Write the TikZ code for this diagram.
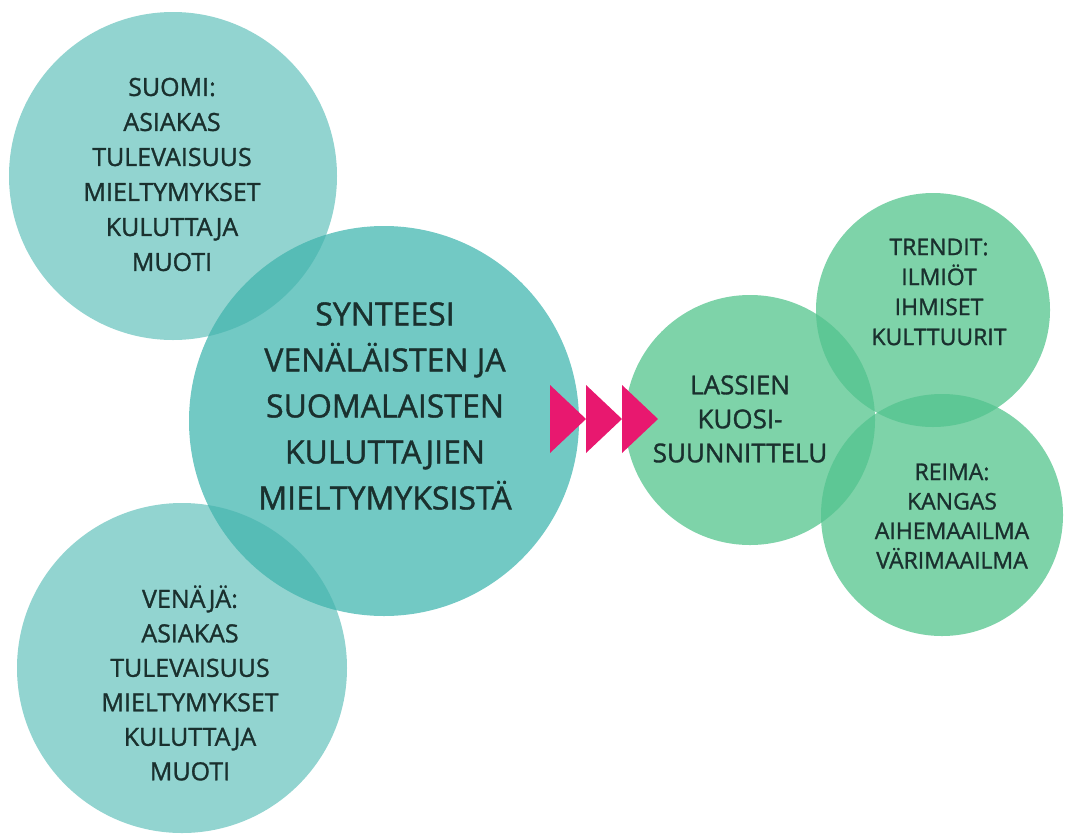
\documentclass[tikz,border=0pt]{standalone}
\usepackage{fontspec}
\setmainfont{Open Sans}
\newfontfamily\lblfont{Open Sans}[FakeBold=1.2]
\definecolor{tealA}{HTML}{92D4D0}
\definecolor{tealB}{HTML}{72C9C4}
\definecolor{tealO}{HTML}{56BCB6}
\definecolor{greenA}{HTML}{7ED3A9}
\definecolor{greenO}{HTML}{5DC795}
\definecolor{pinkA}{HTML}{E8186F}
\definecolor{txt}{HTML}{1A302E}
\begin{document}
\begin{tikzpicture}[x=1pt,y=-1pt,
  bub/.style={circle,inner sep=0pt,draw=none},
  lbl/.style={align=center,text=txt,inner sep=0pt},
  tri/.style={fill=pinkA,draw=none}]
\useasboundingbox (0,0) rectangle (1070,833);
% teal circles
\node[bub,fill=tealA,minimum size=328pt] (fi) at (173,176) {};
\node[bub,fill=tealA,minimum size=330pt] (ru) at (182,668) {};
\node[bub,fill=tealB,minimum size=390pt] (syn) at (384,421) {};
\begin{scope}
  \clip (173,176) circle[radius=164pt];
  \fill[tealO] (384,421) circle[radius=195pt];
\end{scope}
\begin{scope}
  \clip (182,668) circle[radius=165pt];
  \fill[tealO] (384,421) circle[radius=195pt];
\end{scope}
% green circles
\node[bub,fill=greenA,minimum size=250pt] (las) at (750,420) {};
\node[bub,fill=greenA,minimum size=234pt] (tr) at (933,310) {};
\node[bub,fill=greenA,minimum size=242pt] (re) at (942,515) {};
\begin{scope}
  \clip (750,420) circle[radius=125pt];
  \fill[greenO] (933,310) circle[radius=117pt];
  \fill[greenO] (942,515) circle[radius=121pt];
\end{scope}
\begin{scope}
  \clip (933,310) circle[radius=117pt];
  \fill[greenO] (942,515) circle[radius=121pt];
\end{scope}
% texts
\node[lbl,font=\lblfont\fontsize{25}{35}\selectfont] (fitxt) at (172,174.5)
  {SUOMI:\\ASIAKAS\\TULEVAISUUS\\MIELTYMYKSET\\KULUTTAJA\\MUOTI};
\node[lbl,font=\lblfont\fontsize{25}{34.5}\selectfont] (rutxt) at (190,683)
  {VENÄJÄ:\\ASIAKAS\\TULEVAISUUS\\MIELTYMYKSET\\KULUTTAJA\\MUOTI};
\node[lbl,font=\lblfont\fontsize{32}{46}\selectfont] (syntxt) at (385,406)
  {SYNTEESI\\VENÄLÄISTEN JA\\SUOMALAISTEN\\KULUTTAJIEN\\MIELTYMYKSISTÄ};
\node[lbl,font=\lblfont\fontsize{26}{34}\selectfont] (lastxt) at (740,419)
  {LASSIEN\\KUOSI-\\SUUNNITTELU};
\node[lbl,font=\lblfont\fontsize{23}{30}\selectfont] (trtxt) at (939,292)
  {TRENDIT:\\ILMIÖT\\IHMISET\\KULTTUURIT};
\node[lbl,font=\lblfont\fontsize{23}{29.5}\selectfont] (retxt) at (952,516)
  {REIMA:\\KANGAS\\AIHEMAAILMA\\VÄRIMAAILMA};
% arrows
\foreach \i in {0,1,2}{
  \fill[tri] (550+36*\i,385) -- (586+36*\i,419) -- (550+36*\i,453) -- cycle;
}
\end{tikzpicture}
\end{document}
